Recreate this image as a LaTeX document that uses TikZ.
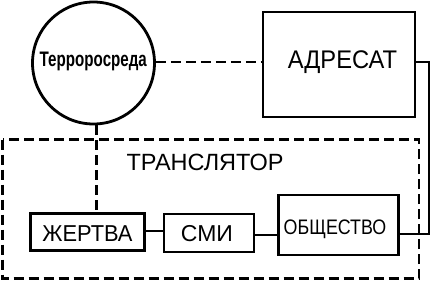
\documentclass[tikz,border=0pt]{standalone}
\usepackage{fontspec}
\setmainfont{Liberation Sans}
\begin{document}
\begin{tikzpicture}[x=1pt,y=-1pt,
  box/.style={draw,line width=2.8pt,inner sep=0pt},
  lbl/.style={inner sep=0pt,anchor=center},
  link/.style={line width=2.8pt},
  dlink/.style={line width=2.8pt,dash pattern=on 10pt off 5pt}]
\useasboundingbox (0,0) rectangle (432,282);
\node[box,circle,minimum size=122pt] (env) at (93.5,63) {};
\node[lbl,font=\bfseries\fontsize{21}{24}\selectfont] (envt) at (93.3,61) {\scalebox{0.72}[1]{Террорoсреда}};
\node[box,minimum width=152pt,minimum height=105pt] (adr) at (339,64.5) {};
\node[lbl,font=\fontsize{25.5}{30}\selectfont] (adrt) at (342.5,62.5) {\scalebox{0.93}[1]{АДРЕСАТ}};
\draw[dlink] (2.5,139.5) rectangle (419,278.5);
\node[lbl,font=\fontsize{23.5}{28}\selectfont] (tr) at (205,162.7) {ТРАНСЛЯТОР};
\node[box,minimum width=114pt,minimum height=37pt] (zh) at (87.5,231.7) {};
\node[lbl,font=\fontsize{23}{27}\selectfont] (zht) at (87.5,233.3) {\scalebox{0.95}[1]{ЖЕРТВА}};
\node[box,minimum width=90pt,minimum height=38pt] (smi) at (209,233) {};
\node[lbl,font=\fontsize{23}{27}\selectfont] (smit) at (207,234) {СМИ};
\node[box,minimum width=120pt,minimum height=60pt] (ob) at (338.3,225) {};
\node[lbl,font=\fontsize{21}{25}\selectfont] (obt) at (335,229.2) {\scalebox{0.85}[1]{ОБЩЕСТВО}};
\coordinate (c1) at (429,62);
\coordinate (c2) at (429,234);
\coordinate (v1) at (96.5,0);
\draw[dlink] (env.east |- 0,62) -- (adr.west |- 0,62);
\draw[dlink] (env.south -| v1) -- (zh.north -| v1);
\draw[link] (zh.east |- 0,231) -- (smi.west |- 0,231);
\draw[link] (smi.east |- 0,235) -- (ob.west |- 0,235);
\draw[link] (adr.east |- c1) -- (c1) -- (c2) -- (ob.east |- c2);
\end{tikzpicture}
\end{document}
